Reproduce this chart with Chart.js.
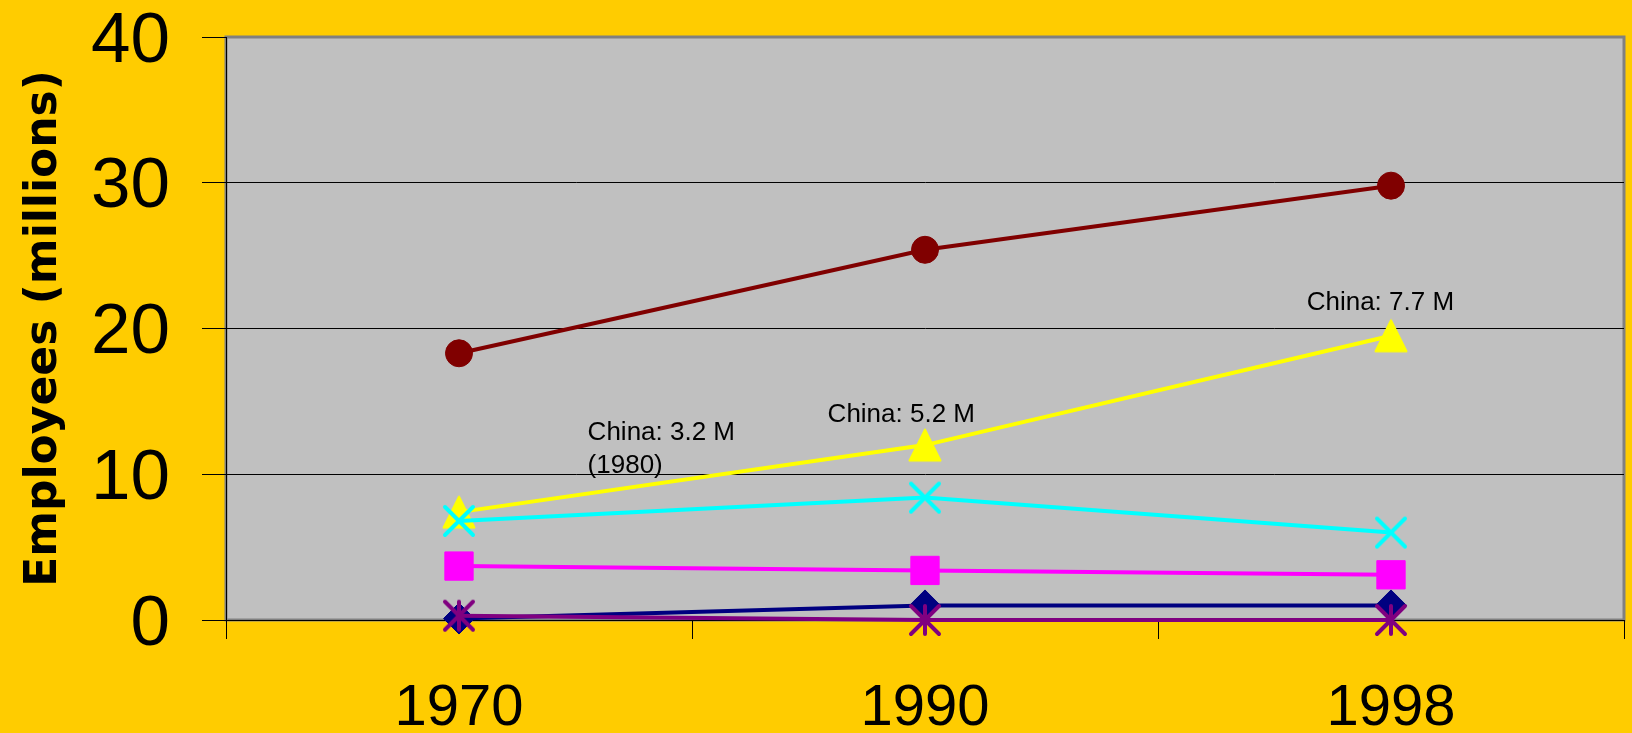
<!DOCTYPE html>
<html>
<head>
<meta charset="utf-8">
<script src="https://cdn.jsdelivr.net/npm/chart.js@4.4.1/dist/chart.umd.min.js"></script>
<style>
  html, body { margin: 0; padding: 0; background: #FFCC00; }
  canvas { display: block; }
</style>
</head>
<body>
<canvas id="chart" width="1632" height="733"></canvas>
<script>
// Employees (millions) per year, one list per series
const categories = ['1970', '1990', '1998'];
const series1 = [0.1, 1.0, 1.0];     // navy diamonds
const series2 = [3.7, 3.4, 3.1];     // magenta squares
const series3 = [7.4, 12.0, 19.5];   // yellow triangles
const series4 = [6.8, 8.4, 6.0];     // cyan crosses
const series5 = [0.3, 0, 0];         // purple asterisks
const series6 = [18.3, 25.4, 29.8];  // maroon circles
const yTicks = [0, 10, 20, 30, 40];

// Text notes, anchored in data units: [category index, value] of the first baseline
const noteLines = [['China: 3.2 M', '(1980)'], ['China: 5.2 M'], ['China: 7.7 M']];
const noteAnchors = [[0.276, 12.34], [0.791, 13.6], [1.819, 21.27]];

const SANS = '"Liberation Sans", Arial, sans-serif';

// Small canvases used as custom point markers
function marker(size, draw) {
  const c = document.createElement('canvas');
  c.width = size; c.height = size;
  const g = c.getContext('2d');
  draw(g, size / 2);
  return c;
}
const triangleMarker = marker(36, (g, m) => {
  g.fillStyle = '#FFFF00'; g.strokeStyle = '#FFFF00';
  g.lineWidth = 2; g.lineJoin = 'round';
  g.beginPath();
  g.moveTo(m, m - 15.5); g.lineTo(m + 15.5, m + 15.5); g.lineTo(m - 15.5, m + 15.5);
  g.closePath(); g.fill(); g.stroke();
});
const crossMarker = marker(36, (g, m) => {
  g.strokeStyle = '#00FFFF'; g.lineWidth = 4; g.lineCap = 'round';
  g.beginPath();
  g.moveTo(m - 14, m - 14); g.lineTo(m + 14, m + 14);
  g.moveTo(m + 14, m - 14); g.lineTo(m - 14, m + 14);
  g.stroke();
});
const asteriskMarker = marker(36, (g, m) => {
  g.strokeStyle = '#800080'; g.lineWidth = 4; g.lineCap = 'round';
  g.beginPath();
  g.moveTo(m - 14, m - 14); g.lineTo(m + 14, m + 14);
  g.moveTo(m + 14, m - 14); g.lineTo(m - 14, m + 14);
  g.moveTo(m, m - 14); g.lineTo(m, m + 14);
  g.stroke();
});

function line(label, data, color, pointStyle, radius, order) {
  return {
    label, data, order,
    borderColor: color, backgroundColor: color,
    borderWidth: 4, tension: 0, clip: false,
    pointStyle, pointRadius: radius, pointHoverRadius: radius,
    pointBackgroundColor: color, pointBorderColor: color, pointBorderWidth: 1
  };
}

const backdrop = {
  id: 'backdrop',
  beforeDraw(chart) {
    const { ctx, chartArea: a } = chart;
    ctx.save();
    ctx.fillStyle = '#FFCC00';
    ctx.fillRect(0, 0, chart.width, chart.height);
    ctx.fillStyle = '#C0C0C0';
    ctx.fillRect(a.left, a.top, a.width, a.height);
    ctx.strokeStyle = '#808080';
    ctx.lineWidth = 3;
    ctx.strokeRect(a.left, a.top, a.width, a.height);
    ctx.restore();
  }
};

const notes = {
  id: 'notes',
  afterDatasetsDraw(chart) {
    const { ctx, scales: { x, y } } = chart;
    ctx.save();
    ctx.fillStyle = '#000';
    ctx.font = '26px ' + SANS;
    ctx.textAlign = 'left';
    ctx.textBaseline = 'alphabetic';
    noteLines.forEach((lines, i) => {
      const px = x.getPixelForValue(noteAnchors[i][0]);
      const py = y.getPixelForValue(noteAnchors[i][1]);
      lines.forEach((t, j) => ctx.fillText(t, px, py + j * 33));
    });
    ctx.restore();
  }
};

const yMax = yTicks[yTicks.length - 1];

new Chart(document.getElementById('chart'), {
  type: 'line',
  data: {
    labels: categories,
    datasets: [
      line('Series 1', series1, '#000080', 'rectRot', 15.5, 5),
      line('Series 2', series2, '#FF00FF', 'rect', 20, 4),
      line('Series 3', series3, '#FFFF00', triangleMarker, 17, 3),
      line('Series 4', series4, '#00FFFF', crossMarker, 17, 2),
      line('Series 5', series5, '#800080', asteriskMarker, 17, 1),
      line('Series 6', series6, '#800000', 'circle', 13.5, 0)
    ]
  },
  options: {
    responsive: false,
    devicePixelRatio: 1,
    animation: false,
    layout: { autoPadding: false, padding: { top: 37, right: 8, bottom: 0, left: 0 } },
    plugins: { legend: { display: false }, tooltip: { enabled: false } },
    scales: {
      x: {
        offset: true,
        grid: { offset: true, drawOnChartArea: false, color: '#000', tickColor: '#000', tickLength: 19 },
        border: { display: true, color: '#000', width: 1 },
        ticks: { color: '#000', font: { family: SANS, size: 58 }, padding: 35, maxRotation: 0, autoSkip: false },
        afterFit(s) { s.height = 113; s.paddingLeft = 0; s.paddingRight = 0; }
      },
      y: {
        min: yTicks[0],
        max: yMax,
        afterBuildTicks(s) { s.ticks = yTicks.map(v => ({ value: v })); },
        grid: {
          color: ctx => (ctx.tick && ctx.tick.value === yMax) ? 'rgba(0,0,0,0)' : '#000',
          tickColor: '#000',
          tickLength: 24
        },
        border: { display: true, color: '#000', width: 1 },
        ticks: { color: '#000', font: { family: SANS, size: 71, lineHeight: 1 }, padding: 32, labelOffset: 5 },
        title: {
          display: true,
          text: 'Employees (millions)',
          color: '#000',
          font: { family: '"DejaVu Sans", sans-serif', weight: 'bold', size: 44 },
          padding: { top: 18, bottom: 0 }
        },
        afterFit(s) { s.width = 226; s.paddingTop = 0; s.paddingBottom = 0; }
      }
    }
  },
  plugins: [backdrop, notes]
});
</script>
</body>
</html>
